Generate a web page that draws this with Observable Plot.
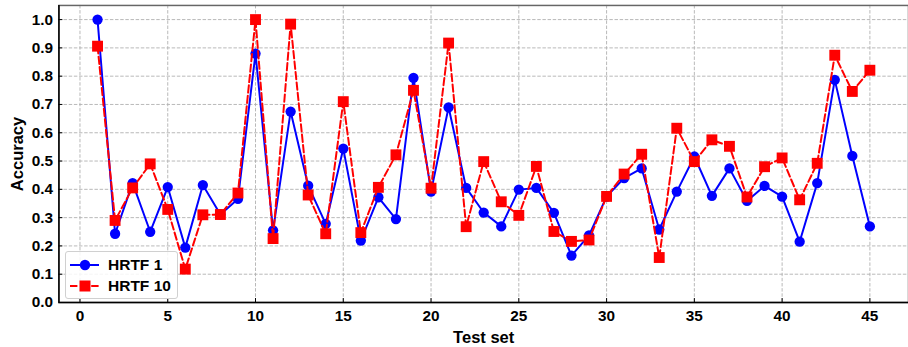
<!DOCTYPE html>
<html><head><meta charset="utf-8">
<script src="https://cdn.jsdelivr.net/npm/d3@7"></script>
<script src="https://cdn.jsdelivr.net/npm/@observablehq/plot@0.6"></script>
<style>
html,body{margin:0;padding:0;overflow:hidden;background:#fff;}
#wrap{position:relative;width:908px;height:347px;overflow:hidden;}
#wrap > svg{display:block;}
#wrap > svg text{font-size:15.5px !important;font-weight:bold;font-family:"Liberation Sans",Arial,sans-serif;fill:#000;}
#wrap > svg g[aria-label="x-axis label"] text, #wrap > svg g[aria-label="y-axis label"] text{font-size:16.7px !important;}
.legend{position:absolute;left:65px;top:251px;width:111px;height:46px;border:1px solid #d0d0d0;border-radius:3px;background:rgba(255,255,255,0.85);font:bold 15.5px "Liberation Sans",Arial,sans-serif;color:#000;}
.legend .row{position:absolute;left:0;height:20px;width:111px;}
.legend svg{position:absolute;left:0;top:0;}
.legend span{position:absolute;left:42px;top:1px;line-height:18px;white-space:nowrap;}
</style></head><body><div id="wrap"></div>
<script>
const testSet = [1,2,3,4,5,6,7,8,9,10,11,12,13,14,15,16,17,18,19,20,21,22,23,24,25,26,27,28,29,30,31,32,33,34,35,36,37,38,39,40,41,42,43,44,45];
const hrtf1 = [1.0,0.243,0.422,0.25,0.408,0.194,0.415,0.311,0.366,0.88,0.255,0.675,0.413,0.278,0.544,0.219,0.372,0.295,0.794,0.392,0.69,0.405,0.318,0.269,0.399,0.405,0.317,0.166,0.237,0.374,0.44,0.474,0.258,0.392,0.516,0.377,0.474,0.359,0.412,0.374,0.215,0.422,0.787,0.518,0.269];
const hrtf10 = [0.906,0.29,0.405,0.49,0.329,0.118,0.31,0.311,0.387,1.0,0.226,0.984,0.38,0.243,0.71,0.247,0.407,0.522,0.75,0.404,0.917,0.268,0.498,0.356,0.308,0.481,0.251,0.216,0.221,0.375,0.454,0.524,0.159,0.616,0.498,0.575,0.552,0.373,0.48,0.511,0.363,0.492,0.874,0.746,0.821];
const xTicks = [0,5,10,15,20,25,30,35,40,45];
const yTicks = [0,0.1,0.2,0.3,0.4,0.5,0.6,0.7,0.8,0.9,1.0];
const seriesNames = ["HRTF 1","HRTF 10"];
const xLabel = "Test set";
const yLabel = "Accuracy";

const BLUE = "#0000ff", RED = "#ff0000";
const xDomain = [-1.2, 47.2];
const yDomain = [0, 1.05];
const rows1 = testSet.map((t,i)=>({t, v:hrtf1[i]}));
const rows10 = testSet.map((t,i)=>({t, v:hrtf10[i]}));
const font = '"Liberation Sans", Arial, sans-serif';
const gridStyle = {stroke:"#b0b0b0", strokeOpacity:1, strokeWidth:0.9, strokeDasharray:"3.5,1.7"};

const chart = Plot.plot({
  width: 917, height: 347,
  marginLeft: 59, marginRight: 0, marginTop: 5, marginBottom: 42,
  style: {fontFamily: font, fontSize: "15.5px", fontWeight: "bold", background: "white", color: "#000", overflow: "visible"},
  x: {domain: xDomain},
  y: {domain: yDomain},
  marks: [
    Plot.gridX(xTicks, gridStyle),
    Plot.gridY(yTicks, gridStyle),
    Plot.frame({stroke: "#666", strokeWidth: 1.5}),
    Plot.ruleY([yDomain[0]], {stroke: "#000", strokeWidth: 1.5}),
    Plot.ruleX([xDomain[0]], {stroke: "#000", strokeWidth: 1.5}),
    Plot.axisX(xTicks, {tickSize: -4, tickPadding: 12, stroke: "#000", strokeOpacity: 1, tickFormat: d => String(d),
      label: xLabel, labelAnchor: "center", labelArrow: false, labelOffset: 41, fontSize: 15.5}),
    Plot.axisY(yTicks, {tickSize: -4, tickPadding: 10, stroke: "#000", strokeOpacity: 1, tickFormat: d => d.toFixed(1),
      label: yLabel, labelAnchor: "center", labelArrow: false, labelOffset: 48, fontSize: 15.5}),
    Plot.line(rows1, {x: "t", y: "v", stroke: BLUE, strokeWidth: 2}),
    Plot.dot(rows1, {x: "t", y: "v", r: 5.2, fill: BLUE, stroke: "none"}),
    Plot.line(rows10, {x: "t", y: "v", stroke: RED, strokeWidth: 2, strokeDasharray: "7.4,3.2"}),
    Plot.dot(rows10, {x: "t", y: "v", symbol: "square", r: 6.2, fill: RED, stroke: "none"})
  ]
});
const wrap = document.getElementById("wrap");
wrap.appendChild(chart);

// legend
const legend = document.createElement("div");
legend.className = "legend";
const entries = [
  {name: seriesNames[0], color: BLUE, dash: null, marker: "circle", top: 3},
  {name: seriesNames[1], color: RED, dash: "7.4,3.2", marker: "square", top: 24}
];
for (const e of entries) {
  const row = document.createElement("div");
  row.className = "row";
  row.style.top = e.top + "px";
  const ns = "http://www.w3.org/2000/svg";
  const s = document.createElementNS(ns, "svg");
  s.setAttribute("width", "40"); s.setAttribute("height", "20");
  const ln = document.createElementNS(ns, "line");
  ln.setAttribute("x1", "4"); ln.setAttribute("x2", "33");
  ln.setAttribute("y1", "10"); ln.setAttribute("y2", "10");
  ln.setAttribute("stroke", e.color); ln.setAttribute("stroke-width", "2");
  if (e.dash) ln.setAttribute("stroke-dasharray", e.dash);
  s.appendChild(ln);
  let m;
  if (e.marker === "circle") {
    m = document.createElementNS(ns, "circle");
    m.setAttribute("cx", "19"); m.setAttribute("cy", "10"); m.setAttribute("r", "5.2");
  } else {
    m = document.createElementNS(ns, "rect");
    m.setAttribute("x", "13.5"); m.setAttribute("y", "4.5"); m.setAttribute("width", "11"); m.setAttribute("height", "11");
  }
  m.setAttribute("fill", e.color);
  s.appendChild(m);
  row.appendChild(s);
  const sp = document.createElement("span");
  sp.textContent = e.name;
  row.appendChild(sp);
  legend.appendChild(row);
}
wrap.appendChild(legend);
</script>
</body></html>
